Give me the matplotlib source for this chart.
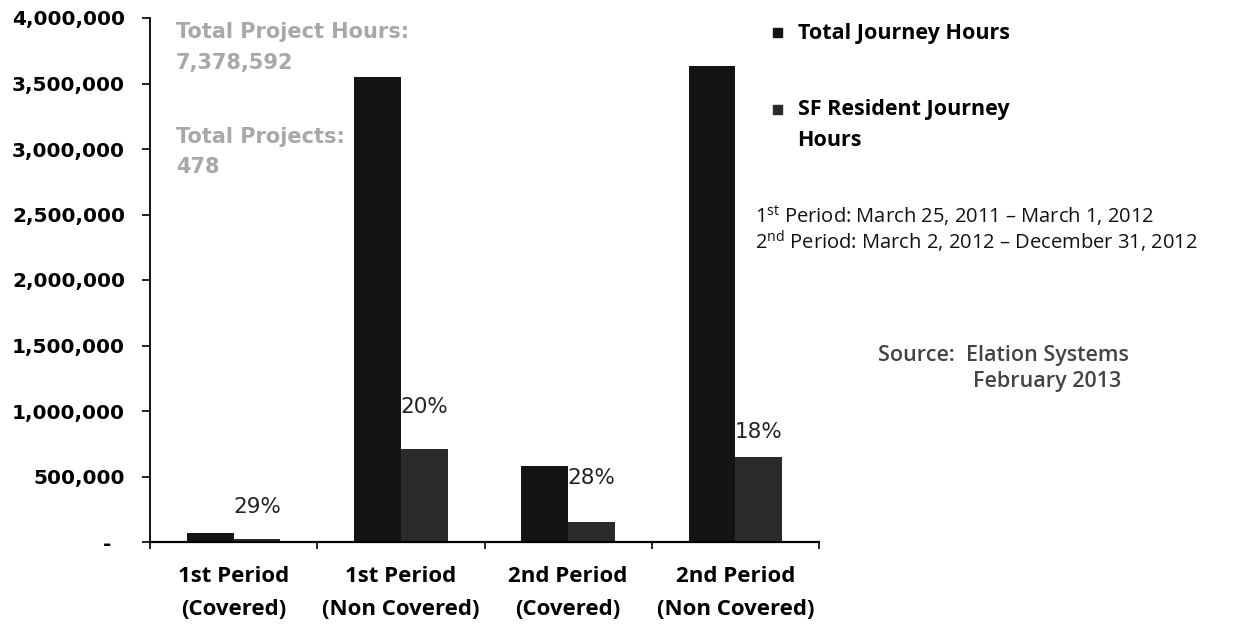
import numpy as np
import matplotlib
matplotlib.use('Agg')
import matplotlib.pyplot as plt
from matplotlib.patches import Rectangle
from matplotlib.ticker import FuncFormatter, FixedLocator

plt.rcParams['mathtext.fontset'] = 'custom'
plt.rcParams['mathtext.rm'] = 'Open Sans'

categories = ['1st Period\n(Covered)', '1st Period\n(Non Covered)',
              '2nd Period\n(Covered)', '2nd Period\n(Non Covered)']
total_hours = [69000, 3550000, 580000, 3630000]
resident_hours = [20000, 710000, 153000, 650000]
pct_labels = ['29%', '20%', '28%', '18%']
series_names = ['Total Journey Hours', 'SF Resident Journey']

W, H = 1237, 626
fig = plt.figure(figsize=(W / 100, H / 100), dpi=100)
ax = fig.add_axes([150 / W, 1 - 542 / H, (819 - 150) / W, (542 - 18) / H])

colors = ['#141414', '#2b2b2b']
x = np.arange(len(categories))
bw = 0.28
ax.bar(x - bw / 2, total_hours, bw, color=colors[0], linewidth=0)
ax.bar(x + bw / 2, resident_hours, bw, color=colors[1], linewidth=0)

# percentage labels above resident bars (pixel offsets)
offs = [32, 42, 44, 25]
for xi, v, lab, o in zip(x, resident_hours, pct_labels, offs):
    ax.annotate(lab, (xi + bw / 2, v), xytext=(0, o * 0.72), textcoords='offset points',
                ha='center', va='center', fontsize=15.5, family='DejaVu Sans', color='#222222')

ax.set_xlim(-0.5, 3.5)
ax.set_ylim(0, 4000000)
ax.yaxis.set_major_locator(FixedLocator(np.arange(0, 4000001, 500000)))
ax.yaxis.set_major_formatter(FuncFormatter(lambda v, p: '-  ' if v == 0 else f'{int(v):,}'))
ax.set_xticks(np.arange(-0.5, 4, 1))
ax.set_xticklabels([])
ax.set_xticks(x, minor=True)
ax.set_xticklabels(categories, minor=True, fontsize=16, family='Open Sans',
                   fontweight='bold', linespacing=1.75)
ax.tick_params(axis='x', which='minor', length=0, pad=17)
ax.tick_params(axis='x', which='major', length=5, width=1.2, direction='out')
ax.tick_params(axis='y', length=6, width=1.2, pad=12)
for t in ax.get_yticklabels():
    t.set_fontsize(14.5)
    t.set_fontweight('bold')
    t.set_family('DejaVu Sans')
for s in ['top', 'right']:
    ax.spines[s].set_visible(False)
ax.spines['left'].set_linewidth(1.3)
ax.spines['bottom'].set_linewidth(1.6)

# faded annotation top-left
gray = '#a8a8a8'
for txt, yy in [('Total Project Hours:', 32), ('7,378,592', 63),
                ('Total Projects:', 137), ('478', 167)]:
    fig.text(176 / W, 1 - yy / H, txt, fontsize=15, fontweight='bold',
             color=gray, va='center', family='DejaVu Sans')

# legend drawn by hand to match the spacing of the scan
for col, lab, yy in zip(colors, series_names, [33, 110]):
    fig.add_artist(Rectangle((773 / W, 1 - (yy + 4) / H), 9 / W, 9 / H,
                             transform=fig.transFigure, color=col))
    fig.text(798 / W, 1 - yy / H, lab, fontsize=15.5, family='Open Sans',
             fontweight='bold', va='center')
fig.text(797 / W, 1 - 140 / H, 'Hours', fontsize=15.5, family='Open Sans',
         fontweight='bold', va='center')

fig.text(755 / W, 1 - 216 / H, r'1$^{\mathrm{st}}$ Period: March 25, 2011 – March 1, 2012',
         fontsize=14.5, family='Open Sans', va='center', color='#111111')
fig.text(755 / W, 1 - 242 / H, r'2$^{\mathrm{nd}}$ Period: March 2, 2012 – December 31, 2012',
         fontsize=14.5, family='Open Sans', va='center', color='#111111')
fig.text(878 / W, 1 - 355 / H, 'Source:  Elation Systems', fontsize=15.5, family='Open Sans',
         fontweight='semibold', va='center', color='#444444')
fig.text(973 / W, 1 - 381 / H, 'February 2013', fontsize=15.5, family='Open Sans',
         fontweight='semibold', va='center', color='#444444')

fig.savefig('out.png', dpi=100)
